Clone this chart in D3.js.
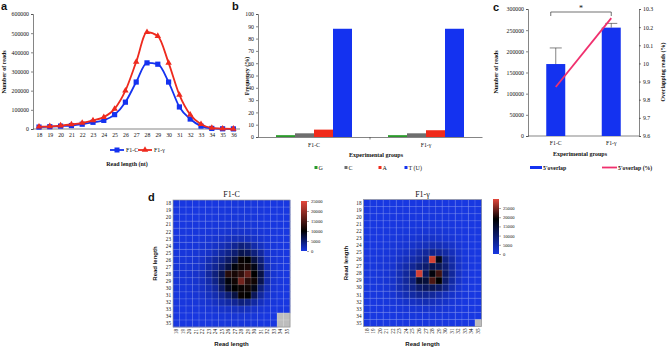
<!DOCTYPE html>
<html>
<head>
<meta charset="utf-8">
<script src="https://cdn.jsdelivr.net/npm/d3@7"></script>
<style>
  body { margin: 0; background: #fff; }
  text { font-family: "Liberation Serif", serif; fill: #111; }
  .sans { font-family: "Liberation Sans", Arial, sans-serif; }
</style>
</head>
<body>
<svg id="fig" width="668" height="350"></svg>
<script>
// ---- panel a: read length distribution
const readLengths = [18, 19, 20, 21, 22, 23, 24, 25, 26, 27, 28, 29, 30, 31, 32, 33, 34, 35, 36];
const readsF1C = [10000, 12000, 15000, 18000, 25000, 35000, 45000, 75000, 140000, 245000, 345000, 338000, 245000, 115000, 52000, 15000, 3000, 1000, 500];
const readsF1G = [12000, 14000, 18000, 24000, 32000, 45000, 62000, 105000, 200000, 350000, 505000, 485000, 345000, 178000, 75000, 25000, 6000, 2000, 1000];
const readTicks = [0, 100000, 200000, 300000, 400000, 500000, 600000];

// ---- panel b: 5' nucleotide frequency
const groups = ["F1-C", "F1-γ"];
const bases = ["G", "C", "A", "T (U)"];
const freqF1C = [1.5, 3, 6, 88];
const freqF1G = [1.5, 3, 5.5, 88];
const freqTicks = [0, 10, 20, 30, 40, 50, 60, 70, 80, 90, 100];

// ---- panel c: 5' overlap
const overlapReads = [170000, 256000];
const overlapErr = [38000, 10000];
const overlapPct = [9.87, 10.25];
const overlapTicks = [0, 50000, 100000, 150000, 200000, 250000, 300000];
const pctTicks = [9.6, 9.7, 9.8, 9.9, 10, 10.1, 10.2, 10.3];

// ---- panel d: overlap heatmaps (thousands of reads), rows/cols = read length 18..35
const heatLengths = [18, 19, 20, 21, 22, 23, 24, 25, 26, 27, 28, 29, 30, 31, 32, 33, 34, 35];
const heatF1C = [
  [0.1,0.1,0.1,0.1,0.1,0.1,0.1,0.2,0.2,0.3,0.3,0.3,0.2,0.2,0.1,0.1,0.1,0.1],
  [0.1,0.1,0.1,0.1,0.1,0.2,0.2,0.2,0.3,0.3,0.3,0.3,0.2,0.2,0.1,0.1,0.1,0.1],
  [0.1,0.1,0.1,0.1,0.2,0.2,0.2,0.3,0.3,0.4,0.4,0.4,0.3,0.2,0.1,0.1,0.1,0.1],
  [0.1,0.1,0.2,0.2,0.2,0.3,0.3,0.4,0.5,0.6,0.6,0.5,0.4,0.3,0.2,0.1,0.1,0.1],
  [0.1,0.2,0.2,0.3,0.3,0.4,0.5,0.6,0.8,1.0,1.0,0.9,0.7,0.5,0.3,0.2,0.1,0.1],
  [0.2,0.2,0.3,0.3,0.4,0.6,0.8,1.0,1.4,1.8,1.8,1.6,1.2,0.8,0.4,0.2,0.1,0.1],
  [0.2,0.3,0.3,0.4,0.6,0.8,1.2,1.8,2.5,3.5,4.5,4.0,2.5,1.5,0.6,0.3,0.1,0.1],
  [0.3,0.3,0.4,0.6,0.8,1.2,2.0,3.0,4.0,5.0,6.5,6.0,4.5,3.0,1.0,0.4,0.2,0.1],
  [0.3,0.4,0.5,0.7,1.0,2.0,3.0,4.0,5.5,7.0,10.5,10.0,7.0,4.5,1.5,0.5,0.2,0.1],
  [0.4,0.5,0.6,0.8,1.2,2.5,3.5,5.0,7.0,9.5,11.0,11.5,9.0,5.5,2.0,0.6,0.2,0.1],
  [0.4,0.5,0.7,1.0,1.5,3.0,4.5,6.5,12.5,11.5,13.0,16.5,10.0,7.0,2.5,0.7,0.2,0.1],
  [0.4,0.5,0.6,0.9,1.4,2.5,4.0,6.5,9.5,11.0,17.5,12.5,11.0,6.5,2.5,0.6,0.2,0.1],
  [0.3,0.4,0.5,0.8,1.2,2.0,3.0,5.5,8.5,10.0,10.5,11.0,9.0,4.5,2.0,0.5,0.2,0.1],
  [0.2,0.3,0.4,0.6,0.9,1.5,2.2,3.5,5.0,7.0,10.5,10.0,6.0,3.0,1.2,0.4,0.1,0.1],
  [0.2,0.2,0.3,0.4,0.6,0.9,1.4,2.2,2.8,3.5,4.5,4.0,2.8,1.6,0.7,0.3,0.1,0.1],
  [0.1,0.1,0.2,0.2,0.3,0.5,0.7,1.0,1.2,1.5,1.8,1.5,1.0,0.6,0.3,0.1,0.1,0.1],
  [0.1,0.1,0.1,0.1,0.2,0.2,0.3,0.4,0.5,0.6,0.6,0.5,0.4,0.2,0.1,0.1,null,null],
  [0.1,0.1,0.1,0.1,0.1,0.1,0.2,0.2,0.3,0.3,0.3,0.3,0.2,0.1,0.1,0.1,null,null]
];
const heatF1G = [
  [0.1,0.1,0.1,0.1,0.1,0.1,0.1,0.2,0.2,0.3,0.3,0.3,0.2,0.2,0.1,0.1,0.1,0.1],
  [0.1,0.1,0.1,0.1,0.1,0.2,0.2,0.2,0.3,0.3,0.3,0.3,0.2,0.2,0.1,0.1,0.1,0.1],
  [0.1,0.1,0.1,0.1,0.2,0.2,0.2,0.3,0.3,0.4,0.4,0.4,0.3,0.2,0.1,0.1,0.1,0.1],
  [0.1,0.1,0.2,0.2,0.2,0.3,0.3,0.4,0.5,0.6,0.6,0.5,0.4,0.3,0.2,0.1,0.1,0.1],
  [0.1,0.2,0.2,0.3,0.3,0.4,0.5,0.7,0.9,1.1,1.1,1.0,0.8,0.5,0.3,0.2,0.1,0.1],
  [0.1,0.2,0.2,0.3,0.5,0.7,0.9,1.2,1.6,2.0,2.0,1.7,1.3,0.9,0.5,0.2,0.1,0.1],
  [0.2,0.2,0.3,0.5,0.8,1.0,1.3,2.0,2.6,3.2,3.9,3.6,2.9,2.0,1.0,0.4,0.1,0.1],
  [0.2,0.3,0.5,0.7,1.0,1.6,2.3,3.3,4.6,5.9,7.2,6.5,5.2,3.3,1.6,0.5,0.2,0.1],
  [0.3,0.4,0.7,0.9,1.3,2.3,3.3,4.6,5.9,7.8,29.0,17.0,7.8,4.6,2.0,0.7,0.2,0.1],
  [0.4,0.5,0.8,1.0,1.6,3.3,4.6,6.5,8.5,9.8,12.4,11.7,9.1,5.2,2.3,0.8,0.2,0.1],
  [0.4,0.5,0.8,1.2,2.0,3.9,5.9,7.8,29.0,11.7,18.0,22.0,10.4,5.9,2.6,0.8,0.2,0.1],
  [0.4,0.5,0.8,1.2,2.0,3.9,5.9,8.5,15.0,14.0,22.5,19.0,9.8,5.2,2.3,0.7,0.2,0.1],
  [0.3,0.4,0.7,1.0,2.0,3.9,5.2,7.2,9.8,11.1,11.7,10.4,7.8,3.9,1.6,0.5,0.1,0.1],
  [0.2,0.3,0.5,0.8,1.3,2.6,3.9,5.2,6.5,6.5,5.9,4.6,3.3,2.0,0.9,0.4,0.1,0.1],
  [0.1,0.2,0.4,0.5,0.8,1.3,2.0,2.6,3.3,3.9,3.3,2.6,2.0,1.0,0.5,0.2,0.1,0.1],
  [0.1,0.1,0.2,0.3,0.4,0.7,0.9,1.2,1.4,1.7,1.6,1.3,0.9,0.5,0.3,0.1,0.1,0.1],
  [0.1,0.1,0.1,0.1,0.2,0.3,0.4,0.5,0.6,0.6,0.6,0.5,0.4,0.3,0.1,0.1,0.1,0.1],
  [0.1,0.1,0.1,0.1,0.1,0.1,0.2,0.2,0.3,0.3,0.3,0.3,0.2,0.1,0.1,0.1,0.1,null]
];
const legendTicks = [0, 5000, 10000, 15000, 20000, 25000];

const BLUE = "#1432f0", RED = "#ee2a1e", PINK = "#f0306e";
const svg = d3.select("#fig");

function panelLetter(x, y, t) {
  svg.append("text").attr("class", "sans").attr("x", x).attr("y", y)
    .attr("font-size", "11px").attr("font-weight", "bold").text(t);
}

function styleAxis(g) {
  g.selectAll("path, line").attr("stroke", "#333").attr("stroke-width", 0.6);
  g.selectAll("text").attr("font-family", "Liberation Serif").attr("font-size", "5.8px").attr("fill", "#222");
}

function yTitle(x, y, t, size) {
  svg.append("text").attr("transform", `translate(${x},${y}) rotate(-90)`)
    .attr("text-anchor", "middle").attr("font-size", size || "6px").attr("font-weight", "bold").text(t);
}

// ================= panel a
panelLetter(1, 10, "a");
const xA = d3.scalePoint().domain(readLengths).range([39, 233.4]);
const yA = d3.scaleLinear().domain([0, 600000]).range([129, 14]);

svg.append("g").attr("transform", "translate(33,0)")
  .call(d3.axisLeft(yA).tickValues(readTicks).tickSize(2).tickPadding(2).tickFormat(d3.format("d")))
  .call(styleAxis);
const axA = svg.append("g").attr("transform", "translate(0,129)")
  .call(d3.axisBottom(xA).tickSize(0).tickPadding(4))
  .call(styleAxis);
axA.select(".domain").attr("d", "M33,0H240");

const lineA = d3.line().x((d, i) => xA(readLengths[i])).y(d => yA(d)).curve(d3.curveMonotoneX);
svg.append("path").datum(readsF1C).attr("d", lineA).attr("fill", "none").attr("stroke", BLUE).attr("stroke-width", 1.8);
svg.selectAll(".sqA").data(readsF1C).join("rect")
  .attr("x", (d, i) => xA(readLengths[i]) - 2.6).attr("y", d => yA(d) - 2.6)
  .attr("width", 5.2).attr("height", 5.2).attr("fill", BLUE);
svg.append("path").datum(readsF1G).attr("d", lineA).attr("fill", "none").attr("stroke", RED).attr("stroke-width", 1.8);
const tri = d3.symbol().type(d3.symbolTriangle).size(18);
svg.selectAll(".triA").data(readsF1G).join("path")
  .attr("transform", (d, i) => `translate(${xA(readLengths[i])},${yA(d)})`)
  .attr("d", tri).attr("fill", RED);

yTitle(6, 72, "Number of reads");
svg.append("text").attr("x", 127).attr("y", 166).attr("text-anchor", "middle")
  .attr("font-size", "6px").attr("font-weight", "bold").text("Read length (nt)");

// legend a
svg.append("line").attr("x1", 110).attr("x2", 124).attr("y1", 150).attr("y2", 150).attr("stroke", BLUE).attr("stroke-width", 1.8);
svg.append("rect").attr("x", 114.5).attr("y", 147.5).attr("width", 5).attr("height", 5).attr("fill", BLUE);
svg.append("text").attr("x", 126).attr("y", 152).attr("font-size", "6px").text("F1-C");
svg.append("line").attr("x1", 138).attr("x2", 152).attr("y1", 150).attr("y2", 150).attr("stroke", RED).attr("stroke-width", 1.8);
svg.append("path").attr("transform", "translate(145,150)").attr("d", tri).attr("fill", RED);
svg.append("text").attr("x", 154).attr("y", 152).attr("font-size", "6px").text("F1-γ");

// ================= panel b
panelLetter(232, 10, "b");
const xB = d3.scaleBand().domain(groups).range([258, 482]);
const xBin = d3.scaleBand().domain(bases).range([0, 76]);
const yB = d3.scaleLinear().domain([0, 100]).range([137, 14]);
const baseColors = ["#2a9a2a", "#6e6e6e", "#f02a1a", BLUE];

svg.append("g").attr("transform", "translate(258,0)")
  .call(d3.axisLeft(yB).tickValues(freqTicks).tickSize(2).tickPadding(2))
  .call(styleAxis);
svg.append("g").attr("transform", "translate(0,137)")
  .call(d3.axisBottom(xB).tickSize(0).tickPadding(6))
  .call(styleAxis);
svg.append("line").attr("x1", xB("F1-γ")).attr("x2", xB("F1-γ")).attr("y1", 137).attr("y2", 139.5).attr("stroke", "#333").attr("stroke-width", 0.6);

[freqF1C, freqF1G].forEach((vals, gi) => {
  const gx = xB(groups[gi]) + xB.bandwidth() / 2 - 38;
  svg.selectAll(".barB" + gi).data(vals).join("rect")
    .attr("x", (d, i) => gx + xBin(bases[i])).attr("y", d => yB(d))
    .attr("width", xBin.bandwidth()).attr("height", d => yB(0) - yB(d))
    .attr("fill", (d, i) => baseColors[i]);
});

yTitle(249, 76, "Frequency (%)");
svg.append("text").attr("x", 376).attr("y", 157).attr("text-anchor", "middle")
  .attr("font-size", "6px").attr("font-weight", "bold").text("Experimental groups");
const legB = [318, 348, 382, 408];
bases.forEach((b, i) => {
  svg.append("rect").attr("x", legB[i] - 3.5).attr("y", 166).attr("width", 3).attr("height", 3).attr("fill", baseColors[i]);
  svg.append("text").attr("x", legB[i] + 0.5).attr("y", 170).attr("font-size", "6px").text(b);
});

// ================= panel c
panelLetter(493, 11, "c");
const xC = d3.scaleBand().domain(groups).range([528, 639]);
const yC = d3.scaleLinear().domain([0, 300000]).range([136, 9]);
const yR = d3.scaleLinear().domain([9.6, 10.3]).range([136, 9]);

svg.append("g").attr("transform", "translate(528,0)")
  .call(d3.axisLeft(yC).tickValues(overlapTicks).tickSize(2).tickPadding(2).tickFormat(d3.format("d")))
  .call(styleAxis);
svg.append("g").attr("transform", "translate(639,0)")
  .call(d3.axisRight(yR).tickValues(pctTicks).tickSize(2).tickPadding(2).tickFormat(d => d3.format("")(+d.toFixed(1))))
  .call(styleAxis);
const axC = svg.append("g").attr("transform", "translate(0,136)")
  .call(d3.axisBottom(xC).tickSize(0).tickPadding(5))
  .call(styleAxis);
axC.select(".domain").attr("d", "M528,0H639");

const cx = g => xC(g) + xC.bandwidth() / 2;
svg.selectAll(".barC").data(overlapReads).join("rect")
  .attr("x", (d, i) => cx(groups[i]) - 9.5).attr("y", d => yC(d))
  .attr("width", 19).attr("height", d => yC(0) - yC(d)).attr("fill", BLUE);
overlapReads.forEach((d, i) => {
  const x = cx(groups[i]);
  svg.append("line").attr("x1", x).attr("x2", x).attr("y1", yC(d)).attr("y2", yC(d + overlapErr[i])).attr("stroke", "#333").attr("stroke-width", 0.6);
  svg.append("line").attr("x1", x - 6).attr("x2", x + 6).attr("y1", yC(d + overlapErr[i])).attr("y2", yC(d + overlapErr[i])).attr("stroke", "#333").attr("stroke-width", 0.6);
});
svg.append("path").datum(overlapPct)
  .attr("d", d3.line().x((d, i) => cx(groups[i])).y(d => yR(d)))
  .attr("fill", "none").attr("stroke", PINK).attr("stroke-width", 1.8);

// significance bracket
const bx0 = cx(groups[0]) - 5, bx1 = cx(groups[1]);
svg.append("path").attr("d", `M${bx0},16V12H${bx1}V16`).attr("fill", "none").attr("stroke", "#333").attr("stroke-width", 0.7);
svg.append("text").attr("x", (bx0 + bx1) / 2).attr("y", 11).attr("text-anchor", "middle").attr("font-size", "8px").text("*");

yTitle(498, 72, "Number of reads");
yTitle(665, 72, "Overlapping reads (%)");
svg.append("text").attr("x", 580).attr("y", 156).attr("text-anchor", "middle")
  .attr("font-size", "6px").attr("font-weight", "bold").text("Experimental groups");
svg.append("rect").attr("x", 530).attr("y", 166).attr("width", 12).attr("height", 3).attr("fill", BLUE);
svg.append("text").attr("x", 543).attr("y", 170).attr("font-size", "5.8px").attr("font-weight", "bold").text("5'overlap");
svg.append("line").attr("x1", 602).attr("x2", 617).attr("y1", 167.5).attr("y2", 167.5).attr("stroke", PINK).attr("stroke-width", 1.8);
svg.append("text").attr("x", 618).attr("y", 170).attr("font-size", "5.8px").attr("font-weight", "bold").text("5'overlap (%)");

// ================= panel d
panelLetter(148, 201, "d");

function drawHeatmap(matrix, opt) {
  const x = d3.scaleBand().domain(heatLengths).range([opt.x0, opt.x1]);
  const y = d3.scaleBand().domain(heatLengths).range([opt.y0, opt.y1]);
  const color = d3.scaleLinear().domain([0, opt.mid, opt.max]).range(["#1838e2", "#000000", "#e4463a"]).clamp(true);
  const g = svg.append("g");
  matrix.forEach((row, ri) => {
    g.selectAll(null).data(row).join("rect")
      .attr("x", (d, ci) => x(heatLengths[ci])).attr("y", y(heatLengths[ri]))
      .attr("width", x.bandwidth() + 0.3).attr("height", y.bandwidth() + 0.3)
      .attr("fill", d => d == null ? "#bdbdbd" : color(d * 1000));
  });
  // light grid
  heatLengths.slice(1).forEach(v => {
    g.append("line").attr("x1", x(v)).attr("x2", x(v)).attr("y1", opt.y0).attr("y2", opt.y1)
      .attr("stroke", "#fff").attr("stroke-opacity", 0.3).attr("stroke-width", 0.6);
    g.append("line").attr("x1", opt.x0).attr("x2", opt.x1).attr("y1", y(v)).attr("y2", y(v))
      .attr("stroke", "#fff").attr("stroke-opacity", 0.3).attr("stroke-width", 0.6);
  });
  g.append("rect").attr("x", opt.x0).attr("y", opt.y0).attr("width", opt.x1 - opt.x0).attr("height", opt.y1 - opt.y0)
    .attr("fill", "none").attr("stroke", "#999").attr("stroke-width", 0.7);

  // tick labels
  heatLengths.forEach(v => {
    g.append("text").attr("x", opt.x0 - 2).attr("y", y(v) + y.bandwidth() / 2 + 1.8)
      .attr("text-anchor", "end").attr("font-size", "5.2px").text(v);
    g.append("text").attr("transform", `translate(${x(v) + x.bandwidth() / 2 + 1.8},${opt.y1 + 2}) rotate(-90)`)
      .attr("text-anchor", "end").attr("font-size", "5.2px").text(v);
  });
  svg.append("text").attr("x", (opt.x0 + opt.x1) / 2).attr("y", opt.y0 - 3).attr("text-anchor", "middle")
    .attr("font-size", "8px").text(opt.title);
  svg.append("text").attr("class", "sans").attr("x", (opt.x0 + opt.x1) / 2).attr("y", opt.y1 + 19)
    .attr("text-anchor", "middle").attr("font-size", "6px").attr("font-weight", "bold").text("Read length");
  svg.append("text").attr("class", "sans").attr("transform", `translate(${opt.x0 - 16},${(opt.y0 + opt.y1) / 2}) rotate(-90)`)
    .attr("text-anchor", "middle").attr("font-size", "6px").attr("font-weight", "bold").text("Read length");

  // colour bar
  const gid = "grad" + Math.round(opt.max);
  const grad = svg.append("defs").append("linearGradient").attr("id", gid)
    .attr("x1", 0).attr("x2", 0).attr("y1", 1).attr("y2", 0);
  [0, opt.mid / opt.max, 1].forEach((o, i) => grad.append("stop").attr("offset", o).attr("stop-color", color.range()[i]));
  svg.append("rect").attr("x", opt.cbx).attr("y", opt.cby0).attr("width", 6).attr("height", opt.cby1 - opt.cby0)
    .attr("fill", `url(#${gid})`);
  const yCb = d3.scaleLinear().domain([0, opt.max]).range([opt.cby1, opt.cby0]);
  svg.append("g").attr("transform", `translate(${opt.cbx + 6},0)`)
    .call(d3.axisRight(yCb).tickValues(legendTicks).tickSize(2).tickPadding(2).tickFormat(d3.format("d")))
    .call(a => {
      a.select(".domain").remove();
      a.selectAll("line").attr("stroke", "#555").attr("stroke-width", 0.5);
      a.selectAll("text").attr("font-family", "Liberation Sans").attr("font-size", "4.6px").attr("fill", "#333");
    });
}

drawHeatmap(heatF1C, { title: "F1-C", x0: 173, x1: 290, y0: 200, y1: 327, mid: 10000, max: 25000, cbx: 301, cby0: 201, cby1: 251 });
drawHeatmap(heatF1G, { title: "F1-γ", x0: 363.5, x1: 481.5, y0: 199.5, y1: 326.5, mid: 19000, max: 29900, cbx: 493, cby0: 199, cby1: 254 });
</script>
</body>
</html>
